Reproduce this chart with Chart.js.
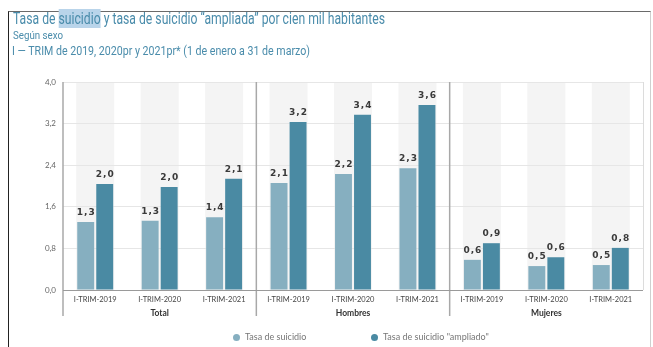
<!DOCTYPE html>
<html><head><meta charset="utf-8">
<script src="https://cdn.jsdelivr.net/npm/chart.js@4/dist/chart.umd.min.js"></script>
<style>
html,body{margin:0;padding:0;background:#fff;}
body{width:653px;height:347px;overflow:hidden;position:relative;font-family:Roboto,sans-serif;}
#frame{position:absolute;left:8px;top:11px;width:641px;height:345px;border-left:1px solid #222;border-top:1.5px solid #6a6a6a;border-right:1px solid #cfcfcf;}
.t{position:absolute;white-space:nowrap;color:#4a8cab;transform-origin:0 0;}
#t1{left:13px;top:10px;font-size:16px;line-height:17px;}
#t1 .hl{background:#b9d4ea;}
#t2{left:13px;top:29px;font-size:11.5px;line-height:13px;}
#t3{left:12px;top:44px;font-size:13px;line-height:14px;}
#c{position:absolute;left:0;top:0;}
#legend{position:absolute;top:330px;left:0;width:653px;height:14px;font-family:Lato,sans-serif;font-size:9px;color:#777;}
#legend span.item{position:absolute;top:0;white-space:nowrap;line-height:14px;}
#legend span.dot{display:inline-block;width:7px;height:7px;border-radius:50%;margin-right:5px;vertical-align:-0.5px;}
</style></head>
<body>
<div id="frame"></div>
<canvas id="c" width="653" height="347"></canvas>
<div class="t" id="t1" data-w="372">Tasa de <span class="hl">suicidio</span> y tasa de suicidio “ampliada” por cien mil habitantes</div>
<div class="t" id="t2" data-w="50">Según sexo</div>
<div class="t" id="t3" data-w="298">I — TRIM de 2019, 2020pr y 2021pr* (1 de enero a 31 de marzo)</div>
<div id="legend"></div>
<script>
const categories = ["I-TRIM-2019","I-TRIM-2020","I-TRIM-2021","I-TRIM-2019","I-TRIM-2020","I-TRIM-2021","I-TRIM-2019","I-TRIM-2020","I-TRIM-2021"];
const groups = ["Total","Hombres","Mujeres"];
const seriesNames = ["Tasa de suicidio","Tasa de suicidio \"ampliado\""];
const tasaSuicidio = [1.31,1.33,1.40,2.06,2.23,2.34,0.58,0.46,0.48];
const tasaAmpliada = [2.04,1.98,2.14,3.23,3.37,3.56,0.90,0.63,0.81];
const yTicks = [0,0.8,1.6,2.4,3.2,4.0];
const colors = ["#86afc0","#4a8aa3"];

const fmt = v => v.toFixed(1).replace('.', ',');

document.querySelectorAll('.t').forEach(el=>{
  const target = parseFloat(el.dataset.w);
  const w = el.getBoundingClientRect().width;
  el.style.transform = 'scaleX(' + (target/w) + ')';
});

const decor = {
  id:'decor',
  beforeDraw(chart){
    const {ctx, chartArea:a, scales:{x}} = chart;
    const w = x.getPixelForValue(1) - x.getPixelForValue(0);
    ctx.save();
    ctx.fillStyle = '#f4f4f4';
    for (let i=0;i<categories.length;i++){
      const cx = x.getPixelForValue(i);
      const hw = w*0.59/2;
      ctx.fillRect(cx-hw, a.top, hw*2, a.bottom-a.top);
    }
    ctx.restore();
  },
  afterDatasetsDraw(chart){
    const {ctx, chartArea:a, scales:{x}} = chart;
    ctx.save();
    ctx.strokeStyle = '#dcdcdc'; ctx.lineWidth = 1;
    ctx.beginPath(); ctx.moveTo(a.right+0.5, a.top); ctx.lineTo(a.right+0.5, a.bottom); ctx.stroke();
    ctx.strokeStyle = '#a8a8a8'; ctx.lineWidth = 1.5;
    ctx.beginPath(); ctx.moveTo(a.left, a.top); ctx.lineTo(a.left, 316); ctx.stroke();
    for (let g=1; g<groups.length; g++){
      const sx = (x.getPixelForValue(3*g-1) + x.getPixelForValue(3*g))/2;
      ctx.beginPath(); ctx.moveTo(sx, a.top); ctx.lineTo(sx, 316); ctx.stroke();
    }
    ctx.strokeStyle = '#9a9a9a'; ctx.lineWidth = 1;
    ctx.beginPath(); ctx.moveTo(a.left, a.bottom+0.5); ctx.lineTo(a.right, a.bottom+0.5); ctx.stroke();
    ctx.fillStyle = '#333'; ctx.font = 'bold 8.5px Lato, sans-serif';
    ctx.textAlign = 'center'; ctx.textBaseline = 'middle';
    groups.forEach((g,i)=>{
      const gx = (x.getPixelForValue(3*i) + x.getPixelForValue(3*i+2))/2;
      ctx.fillText(g, gx, 313);
    });
    ctx.font = 'bold 9px "DejaVu Sans", sans-serif';
    ctx.fillStyle = '#3a3a3a';
    ctx.textBaseline = 'bottom';
    try { ctx.letterSpacing = '1px'; } catch(e){}
    chart.data.datasets.forEach((ds,di)=>{
      const meta = chart.getDatasetMeta(di);
      meta.data.forEach((el,i)=>{
        ctx.fillText(fmt(ds.data[i]), el.x+0.5, el.y-5);
      });
    });
    ctx.restore();
  }
};

new Chart(document.getElementById('c'), {
  type:'bar',
  data:{
    labels: categories,
    datasets:[
      {label: seriesNames[0], data: tasaSuicidio, backgroundColor: colors[0], categoryPercentage:0.59, barPercentage:0.89},
      {label: seriesNames[1], data: tasaAmpliada, backgroundColor: colors[1], categoryPercentage:0.59, barPercentage:0.89}
    ]
  },
  options:{
    responsive:false, animation:false, devicePixelRatio:1,
    layout:{padding:{top:82, right:10, left:0, bottom:0}},
    plugins:{legend:{display:false}, tooltip:{enabled:false}},
    scales:{
      x:{
        grid:{display:false, drawTicks:false},
        border:{display:false},
        ticks:{color:'#444', font:{family:'Lato', size:7.5}, padding:5, maxRotation:0, autoSkip:false},
        afterFit(s){ s.height = 57; }
      },
      y:{
        min:0, max:4.0,
        afterBuildTicks(s){ s.ticks = yTicks.map(v=>({value:v})); },
        grid:{color:'#e6e6e6', lineWidth:1, drawTicks:false},
        border:{display:false},
        ticks:{color:'#666', font:{family:'Lato', size:8}, padding:7, callback:v=>fmt(v)},
        afterFit(s){ s.width = 63; }
      }
    }
  },
  plugins:[decor]
});

const lg = document.getElementById('legend');
const legendX = [233, 371];
seriesNames.forEach((n,i)=>{
  const s = document.createElement('span');
  s.className='item'; s.style.left = legendX[i]+'px';
  const d = document.createElement('span'); d.className='dot'; d.style.background = colors[i];
  s.appendChild(d); s.appendChild(document.createTextNode(n));
  lg.appendChild(s);
});
</script>
</body></html>
